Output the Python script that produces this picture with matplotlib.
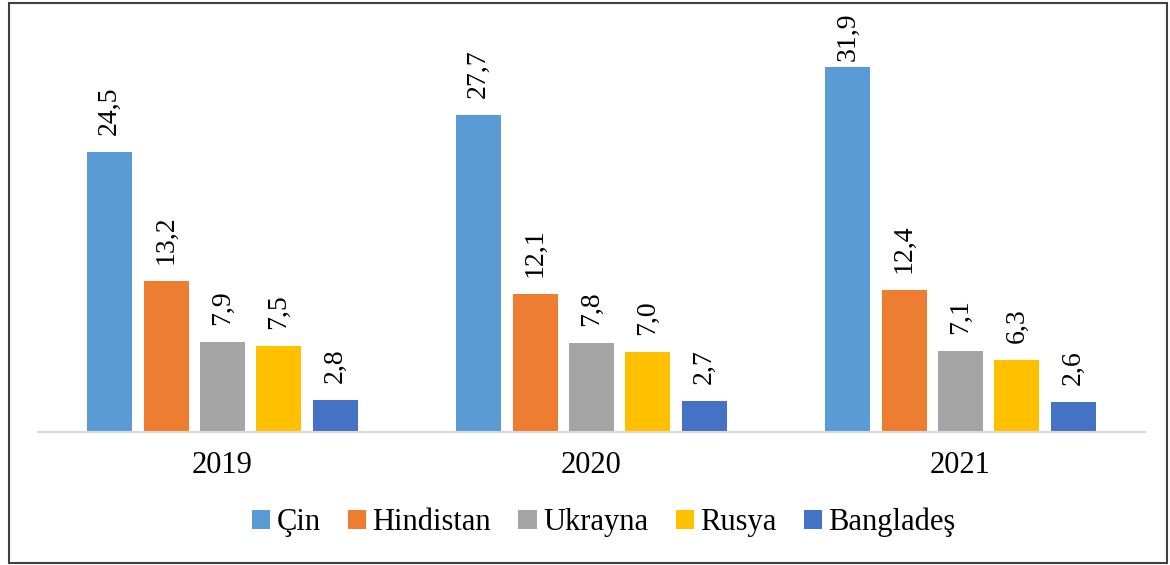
import matplotlib
matplotlib.use("Agg")
import matplotlib.pyplot as plt
from matplotlib.patches import Rectangle
import numpy as np

plt.rcParams['font.family'] = ['Liberation Serif', 'DejaVu Serif']

# data
years = ['2019', '2020', '2021']
countries = ['Çin', 'Hindistan', 'Ukrayna', 'Rusya', 'Bangladeş']
cin = [24.5, 27.7, 31.9]
hindistan = [13.2, 12.1, 12.4]
ukrayna = [7.9, 7.8, 7.1]
rusya = [7.5, 7.0, 6.3]
banglades = [2.8, 2.7, 2.6]
series = [cin, hindistan, ukrayna, rusya, banglades]
colors = ['#5B9BD5', '#ED7D31', '#A5A5A5', '#FFC000', '#4472C4']

fig = plt.figure(figsize=(11.7, 5.65), dpi=100)
ax = fig.add_axes([38 / 1170, 133 / 565, 1107 / 1170, 400 / 565])

x = np.arange(len(years))
slot = 0.153
width = 0.122
gap = 1.5          # space between bar top and label (data units)
label_max = 32.5   # labels pushed down near the top, like Excel does
for i, (vals, name, c) in enumerate(zip(series, countries, colors)):
    pos = x + (i - 2) * slot
    bars = ax.bar(pos, vals, width=width, color=c, label=name)
    for b, v in zip(bars, vals):
        ax.text(b.get_x() + b.get_width() / 2, min(v + gap, label_max),
                f'{v:.1f}'.replace('.', ','),
                rotation=90, ha='center', va='bottom', fontsize=20)

ax.set_xlim(-0.5, 2.5)
ax.set_ylim(0, 35)
ax.set_xticks(x)
ax.set_xticklabels(years, fontsize=22)
ax.tick_params(axis='x', length=0, pad=14)
ax.set_yticks([])
for s in ['top', 'right', 'left']:
    ax.spines[s].set_visible(False)
ax.spines['bottom'].set_color('#D9D9D9')
ax.spines['bottom'].set_linewidth(1.5)

fig.legend(loc='center', bbox_to_anchor=(0.516, 0.075), ncol=5, frameon=False,
           fontsize=22, handlelength=0.6, handleheight=0.6,
           handletextpad=0.2, columnspacing=0.9)

fig.patches.append(Rectangle((9 / 1170, 2 / 565), 1158 / 1170, 560 / 565,
                             transform=fig.transFigure, fill=False,
                             edgecolor='#404040', linewidth=1.5))

fig.savefig('out.png', dpi=100)
